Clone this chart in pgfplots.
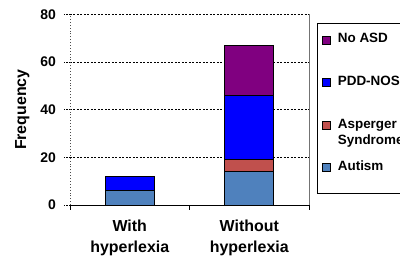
\documentclass[border=0pt]{standalone}
\usepackage{pgfplots}
\usepackage{pgfplotstable}
\pgfplotsset{compat=1.18}
\usepackage{fontspec}
\setmainfont{Liberation Sans}
\definecolor{autism}{HTML}{4F81BD}
\definecolor{asperger}{HTML}{C0504D}
\definecolor{pddnos}{HTML}{0000FF}
\definecolor{noasd}{HTML}{800080}
\pgfplotstableread{
x autism asperger pdd noasd
1 6 0 6 0
2 14 5 27 21
}\datatable
\begin{document}
\begin{tikzpicture}[font=\bfseries]
\begin{axis}[
  scale only axis, width=239bp, height=190.7bp,
  ybar stacked, bar width=49bp,
  xmin=0.5, xmax=2.5, ymin=0, ymax=80,
  xtick={1,2},
  xticklabels={{With\\hyperlexia},{Without\\hyperlexia}},
  minor xtick={0.5,1.5,2.5},
  ytick={0,20,40,60,80},
  axis x line*=bottom, axis y line*=left,
  axis line style={-},
  x axis line style={black, line width=0.8bp},
  y axis line style={black!70, dotted, line width=0.9bp},
  tick align=outside,
  major tick length=6bp, minor tick length=5bp,
  major x tick style={draw=none},
  minor x tick style={black, line width=0.6bp},
  ytick style={black, line width=0.6bp, dash pattern=on 1.5bp off 1bp},
  ymajorgrids,
  major grid style={black, dash pattern=on 2bp off 1.5bp, line width=0.6bp},
  extra x ticks={2.5}, extra x tick labels={},
  extra x tick style={grid=major, major grid style={black!55, solid, line width=1bp}, major x tick style={draw=none}},
  /pgf/number format/assume math mode=true,
  yticklabel style={font=\fontsize{14}{16}\selectfont\bfseries, inner sep=0pt, xshift=-8bp},
  xticklabel style={align=center, font=\fontsize{16}{21}\selectfont\bfseries, inner sep=0pt, yshift=-9bp},
  ylabel={Frequency},
  ylabel style={font=\fontsize{16}{19}\selectfont\bfseries, at={(axis description cs:-0.2,0.5)}, anchor=center},
  reverse legend,
  legend image code/.code={\draw[#1] (0bp,-1bp) rectangle (8bp,7bp);},
  legend style={
    at={(1.032,0.953)}, anchor=north west,
    draw=black, line width=0.8bp,
    inner xsep=5bp, inner ysep=9.3bp,
    font=\fontsize{13.5}{16.7}\selectfont\bfseries,
    cells={anchor=base west},
    nodes={inner sep=0pt, text depth={}},
    row sep=29.6bp, column sep=7bp,
  },
]
\addplot[fill=autism, draw=black, line width=0.8bp] table[x=x,y=autism]{\datatable};
\addlegendentry{\raisebox{0pt}[10bp][13.5bp]{Autism}}
\addplot[fill=asperger, draw=black, line width=0.8bp] table[x=x,y=asperger]{\datatable};
\addlegendentry{\raisebox{0pt}[10bp][3bp]{\begin{tabular}[t]{@{}l@{}}Asperger\\Syndrome\end{tabular}}}
\addplot[fill=pddnos, draw=black, line width=0.8bp] table[x=x,y=pdd]{\datatable};
\addlegendentry{\raisebox{0pt}[10bp][3bp]{PDD-NOS}}
\addplot[fill=noasd, draw=black, line width=0.8bp] table[x=x,y=noasd]{\datatable};
\addlegendentry{\raisebox{0pt}[10bp][3bp]{No ASD}}
\end{axis}
\pgfresetboundingbox
\path[use as bounding box] ([shift={(-70bp,-59bp)}]current axis.south west) rectangle ([shift={(91bp,14.3bp)}]current axis.north east);
\end{tikzpicture}
\end{document}
